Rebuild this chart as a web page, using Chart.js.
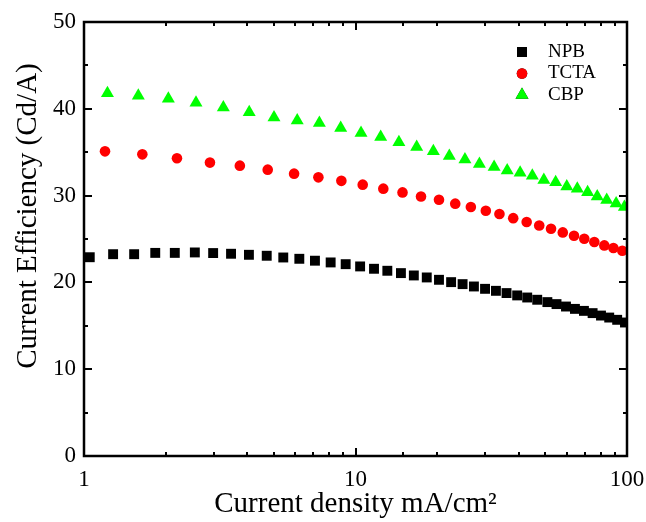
<!DOCTYPE html>
<html>
<head>
<meta charset="utf-8">
<title>Current efficiency vs current density</title>
<script src="https://cdn.jsdelivr.net/npm/chart.js@4/dist/chart.umd.min.js"></script>
<style>
  html, body { margin: 0; padding: 0; background: #fff; }
  canvas { display: block; }
</style>
</head>
<body>
<canvas id="effChart" width="646" height="522"></canvas>
<script>
// values
const seriesNames = ['NPB', 'TCTA', 'CBP'];

const npbX = [1.05, 1.28, 1.53, 1.83, 2.16, 2.56, 2.99, 3.48, 4.05, 4.71, 5.42, 6.21, 7.09, 8.1, 9.2,
  10.4, 11.7, 13.1, 14.7, 16.4, 18.3, 20.3, 22.5, 24.8, 27.3, 30.0, 32.9, 36.0, 39.4, 42.9,
  46.7, 50.9, 55.0, 59.6, 64.3, 69.4, 74.7, 80.2, 86.0, 92.0, 98.3];
const npbY = [22.9, 23.25, 23.25, 23.4, 23.4, 23.45, 23.38, 23.3, 23.18, 23.07, 22.87, 22.72, 22.5, 22.3, 22.1,
  21.84, 21.57, 21.34, 21.07, 20.8, 20.57, 20.3, 20.03, 19.8, 19.53, 19.26, 19.03, 18.77, 18.5, 18.26,
  18.0, 17.73, 17.5, 17.22, 16.95, 16.72, 16.46, 16.18, 15.95, 15.69, 15.38];

const tctaX = [1.195, 1.64, 2.2, 2.91, 3.75, 4.75, 5.94, 7.3, 8.87, 10.63, 12.66, 14.9, 17.43, 20.3, 23.3,
  26.6, 30.2, 33.9, 38.1, 42.7, 47.5, 52.5, 58.0, 63.8, 69.6, 75.8, 82.5, 89.1, 96.1];
const tctaY = [35.1, 34.75, 34.3, 33.8, 33.45, 32.99, 32.53, 32.1, 31.7, 31.26, 30.8, 30.37, 29.9, 29.53, 29.07,
  28.68, 28.26, 27.88, 27.4, 26.95, 26.56, 26.18, 25.76, 25.37, 25.03, 24.65, 24.26, 23.96, 23.64];

const cbpX = [1.22, 1.585, 2.045, 2.585, 3.26, 4.06, 5.01, 6.1, 7.36, 8.82, 10.48, 12.38, 14.45, 16.8, 19.35,
  22.16, 25.3, 28.6, 32.4, 36.2, 40.4, 44.8, 49.4, 54.6, 60.0, 65.6, 71.6, 77.7, 84.2, 91.2, 97.8];
const cbpY = [41.8, 41.5, 41.15, 40.7, 40.15, 39.6, 39.0, 38.65, 38.35, 37.8, 37.2, 36.75, 36.15, 35.6, 35.1,
  34.55, 34.15, 33.65, 33.3, 32.9, 32.62, 32.3, 31.8, 31.55, 31.05, 30.8, 30.4, 29.9, 29.5, 29.1, 28.7];

const xTickLabels = [1, 10, 100];
const yTickLabels = [0, 10, 20, 30, 40, 50];
const yTitle = 'Current Efficiency (Cd/A)';

const serif = '"Liberation Serif", "Times New Roman", serif';

function toPoints(xs, ys) {
  return xs.map((x, i) => ({ x: x, y: ys[i] }));
}

const isDecade = v => Math.abs(Math.log10(v) - Math.round(Math.log10(v))) < 1e-9;

// box round the plot with inward ticks on all four sides, legend, y title
const framePlugin = {
  id: 'frame',
  afterDatasetsDraw(chart) {
    const { ctx, chartArea: a, scales } = chart;
    const x = scales.x, y = scales.y;
    ctx.save();
    ctx.strokeStyle = '#000';
    ctx.lineWidth = 2;
    ctx.beginPath();
    x.ticks.forEach(t => {
      const px = Math.round(x.getPixelForValue(t.value));
      const len = isDecade(t.value) ? 8 : 4;
      ctx.moveTo(px, a.bottom); ctx.lineTo(px, a.bottom - len);
      ctx.moveTo(px, a.top); ctx.lineTo(px, a.top + len);
    });
    y.ticks.forEach(t => {
      const py = Math.round(y.getPixelForValue(t.value));
      const len = t.value % 10 === 0 ? 8 : 4;
      ctx.moveTo(a.left, py); ctx.lineTo(a.left + len, py);
      ctx.moveTo(a.right, py); ctx.lineTo(a.right - len, py);
    });
    ctx.stroke();
    ctx.lineWidth = 2.5;
    ctx.strokeRect(a.left, a.top, a.right - a.left, a.bottom - a.top);

    // legend in the upper right corner
    ctx.font = '19px ' + serif;
    ctx.fillStyle = '#000';
    ctx.textBaseline = 'middle';
    ctx.textAlign = 'left';
    chart.data.datasets.forEach((ds, i) => {
      const ly = a.top + 30 + i * 21.5;
      Chart.helpers.drawPoint(ctx, {
        pointStyle: ds.pointStyle,
        radius: ds.pointRadius,
        borderWidth: 0
      }, a.right - 105, ly);
      ctx.fillStyle = ds.backgroundColor;
      ctx.fill();
      ctx.fillStyle = '#000';
      ctx.fillText(ds.label, a.right - 79, ly);
    });

    // y title sits a bit above the middle of the axis in the original
    ctx.font = '29px ' + serif;
    ctx.textAlign = 'center';
    ctx.translate(y.left + 28, (a.top + a.bottom) / 2 - 23);
    ctx.rotate(-Math.PI / 2);
    ctx.fillText(yTitle, 0, 0);
    ctx.restore();
  }
};

new Chart(document.getElementById('effChart'), {
  type: 'scatter',
  data: {
    datasets: [
      { label: seriesNames[0], data: toPoints(npbX, npbY), pointStyle: 'rect', pointRadius: 7,
        backgroundColor: '#000000', borderWidth: 0 },
      { label: seriesNames[1], data: toPoints(tctaX, tctaY), pointStyle: 'circle', pointRadius: 5.3,
        backgroundColor: '#ff0000', borderWidth: 0 },
      { label: seriesNames[2], data: toPoints(cbpX, cbpY), pointStyle: 'triangle', pointRadius: 7.5,
        backgroundColor: '#00ff00', borderWidth: 0 }
    ]
  },
  options: {
    responsive: false,
    animation: false,
    layout: { padding: { top: 22, right: 19, left: 0, bottom: 0 } },
    plugins: {
      legend: { display: false },
      tooltip: { enabled: false }
    },
    scales: {
      x: {
        type: 'logarithmic',
        min: 1,
        max: 100,
        afterFit: s => { s.height = 66; s.paddingLeft = 0; s.paddingRight = 0; },
        grid: { display: false, drawTicks: false },
        border: { display: false },
        ticks: {
          padding: 10,
          color: '#000',
          maxRotation: 0,
          autoSkip: false,
          font: { family: serif, size: 23 },
          callback: v => xTickLabels.includes(v) ? String(v) : ''
        },
        title: {
          display: true,
          text: 'Current density mA/cm²',
          color: '#000',
          font: { family: serif, size: 29 },
          padding: { top: 0, bottom: 0 }
        }
      },
      y: {
        min: 0,
        max: 50,
        afterFit: s => { s.width = 84; s.paddingTop = 0; s.paddingBottom = 0; },
        grid: { display: false, drawTicks: false },
        border: { display: false },
        ticks: {
          stepSize: 5,
          padding: 8,
          color: '#000',
          font: { family: serif, size: 23 },
          callback: v => yTickLabels.includes(v) ? String(v) : ''
        },
        title: { display: false }
      }
    }
  },
  plugins: [framePlugin]
});
</script>
</body>
</html>
